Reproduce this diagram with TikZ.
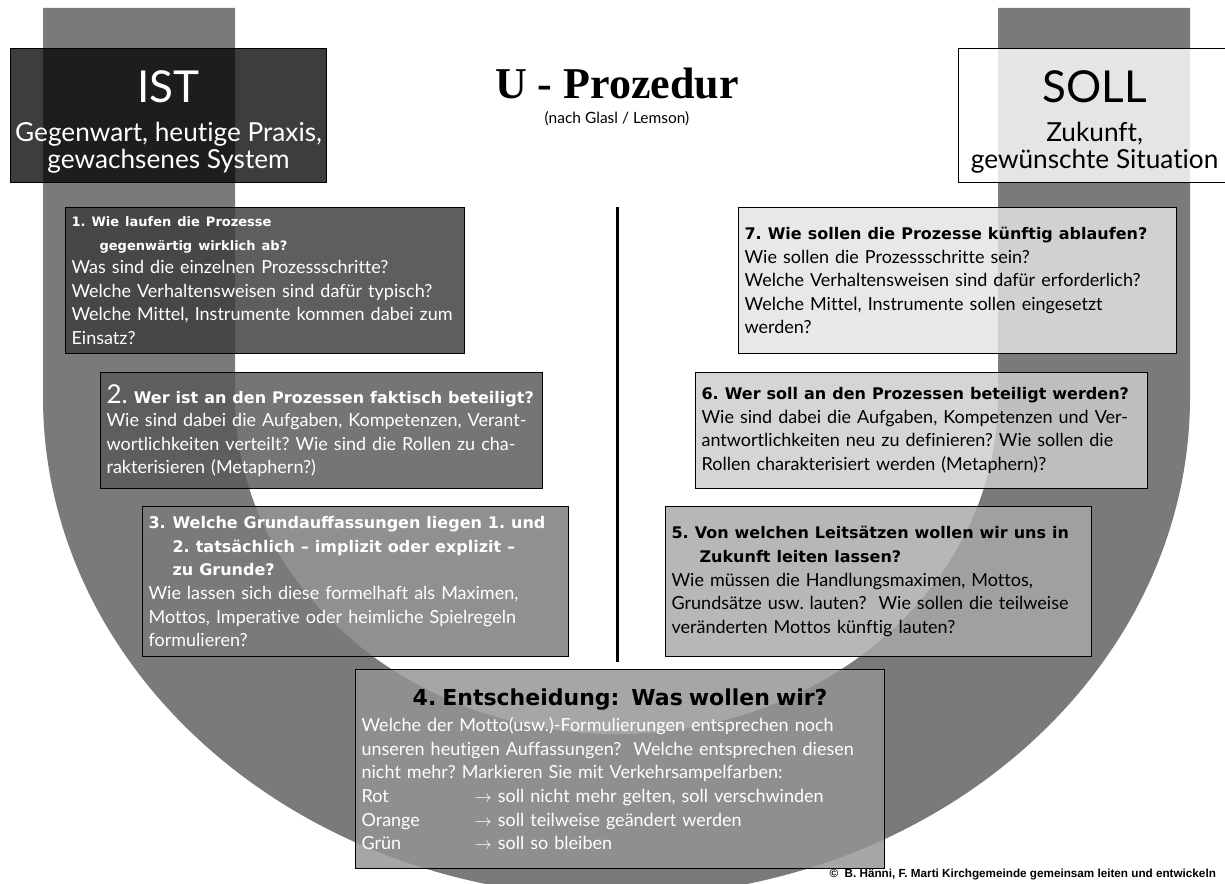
\documentclass[tikz,border=0pt]{standalone}
\usepackage{fontspec}
\setmainfont{Lato}[Ligatures=NoCommon]
\newfontfamily\headserif{Liberation Serif}
\newfontfamily\heavyfont{DejaVu Sans}
\newfontfamily\arialfont{Liberation Sans}
\usetikzlibrary{positioning}

\definecolor{ushade}{gray}{0.48}
\definecolor{qone}{gray}{0.24}
\definecolor{qtwo}{gray}{0.35}
\definecolor{qthree}{gray}{0.48}
\definecolor{qfour}{gray}{0.58}
\definecolor{qfive}{gray}{0.66}
\definecolor{qsix}{gray}{0.80}
\definecolor{qseven}{gray}{0.89}

\newcommand{\txt}{\fontsize{18}{23.6}\selectfont}
\newcommand{\hd}{\heavyfont\bfseries\fontsize{16}{23.6}\selectfont}
\newcommand{\ind}{\hspace*{28pt}}
\newcommand{\sidehead}[1]{{\fontsize{44}{44}\selectfont\rule{0pt}{45pt}#1}}
\frenchspacing

\begin{document}
\begin{tikzpicture}[x=1pt, y=-1pt,
  box/.style={draw=black, line width=1.2pt, anchor=north west, fill opacity=.83, text opacity=1, inner xsep=6pt, inner ysep=0pt},
  qbox/.style={box, align=left, font=\txt},
  side/.style={box, align=center, inner xsep=1pt, minimum height=134pt, font=\fontsize{26.2}{27}\selectfont}]
\useasboundingbox (0,0) rectangle (1225,883);
\clip (0,0) rectangle (1225,883);

% the U
\fill[ushade] (43,8) -- (43,397) arc[start angle=180, end angle=0, x radius=573.5, y radius=500]
  -- (1190,8) -- (998,8) -- (998,397) arc[start angle=0, end angle=180, x radius=381.5, y radius=337]
  -- (235,8) -- cycle;

\node (ist) [side, fill=black, fill opacity=.76, text=white, minimum width=316pt] at (10,48)
  {\sidehead{IST}\\[12pt] Gegenwart, heutige Praxis,\\ gewachsenes System};
\node (soll) [side, fill=white, fill opacity=.81, text=black, minimum width=272pt] at (958,48)
  {\sidehead{SOLL}\\[12pt] Zukunft,\\ gewünschte Situation};

\node (title) [font=\headserif\bfseries\fontsize{44}{44}\selectfont] at (617,84) {U - Prozedur};
\node (sub) [font=\fontsize{15.5}{17}\selectfont] at (617,119) {(nach Glasl / Lemson)};

\node (q1) [qbox, fill=qone, text=white, text width=387pt, minimum height=146pt] at (65,207)
  {{\heavyfont\bfseries\fontsize{13}{23.6}\selectfont 1. Wie laufen die Prozesse}\\
   {\heavyfont\bfseries\fontsize{13}{23.6}\selectfont\ind gegenwärtig wirklich ab?}\\
   Was sind die einzelnen Prozessschritte?\\ Welche Verhaltensweisen sind dafür typisch?\\
   Welche Mittel, Instrumente kommen dabei zum\\ Einsatz?};
\node (q2) [qbox, fill=qtwo, text=white, text width=430pt, minimum height=116pt] at (100,372)
  {{\fontsize{26}{23.6}\selectfont 2.}{\hd\ Wer ist an den Prozessen faktisch beteiligt?}\\
   Wie sind dabei die Aufgaben, Kompetenzen, Verant-\\ wortlichkeiten verteilt? Wie sind die Rollen zu cha-\\
   rakterisieren (Metaphern?)};
\node (q3) [qbox, fill=qthree, text=white, text width=414pt, minimum height=150pt] at (142,506)
  {{\hd\makebox[24pt][l]{3.}Welche Grundauffassungen liegen 1. und}\\
   {\hd\hspace*{24pt}2. tatsächlich – implizit oder explizit –}\\ {\hd\hspace*{24pt}zu Grunde?}\\
   Wie lassen sich diese formelhaft als Maximen,\\ Mottos, Imperative oder heimliche Spielregeln\\ formulieren?};

\node (q7) [qbox, fill=qseven, text=black, text width=426pt, minimum height=146pt] at (738,207)
  {{\hd 7. Wie sollen die Prozesse künftig ablaufen?}\\ Wie sollen die Prozessschritte sein?\\
   Welche Verhaltensweisen sind dafür erforderlich?\\ Welche Mittel, Instrumente sollen eingesetzt\\ werden?};
\node (q6) [qbox, fill=qsix, text=black, text width=440pt, minimum height=116pt] at (695,372)
  {{\hd 6. Wer soll an den Prozessen beteiligt werden?}\\
   Wie sind dabei die Aufgaben, Kompetenzen und Ver-\\ antwortlichkeiten neu zu definieren? Wie sollen die\\
   Rollen charakterisiert werden (Metaphern)?};
\node (q5) [qbox, fill=qfive, text=black, text width=414pt, minimum height=150pt] at (665,506)
  {{\hd 5. Von welchen Leitsätzen wollen wir uns in}\\ {\hd\ind Zukunft leiten lassen?}\\
   Wie müssen die Handlungsmaximen, Mottos,\\ Grundsätze usw. lauten?~ Wie sollen die teilweise\\
   veränderten Mottos künftig lauten?};

\node (q4) [qbox, fill=qfour, text=white, text width=517pt, minimum height=199pt] at (355,669)
  {\makebox[517pt]{\color{black}\heavyfont\bfseries\fontsize{22}{23.6}\selectfont 4. Entscheidung:~ Was wollen wir?}\\[3pt]
   Welche der Motto(usw.)-Formulierungen entsprechen noch\\
   unseren heutigen Auffassungen?~ Welche entsprechen diesen\\
   nicht mehr? Markieren Sie mit Verkehrsampelfarben:\\
   \makebox[113pt][l]{Rot}$\rightarrow$ soll nicht mehr gelten, soll verschwinden\\
   \makebox[113pt][l]{Orange}$\rightarrow$ soll teilweise geändert werden\\
   \makebox[113pt][l]{Grün}$\rightarrow$ soll so bleiben};

\coordinate (axtop) at (617,207);
\coordinate (axbot) at (617,662);
\draw[line width=3pt] (axtop) -- (axbot);

\node (copy) [anchor=base west, font=\arialfont\bfseries\fontsize{11.7}{13}\selectfont] at (826,877)
  {©~ B. Hänni, F. Marti Kirchgemeinde gemeinsam leiten und entwickeln};
\end{tikzpicture}
\end{document}
